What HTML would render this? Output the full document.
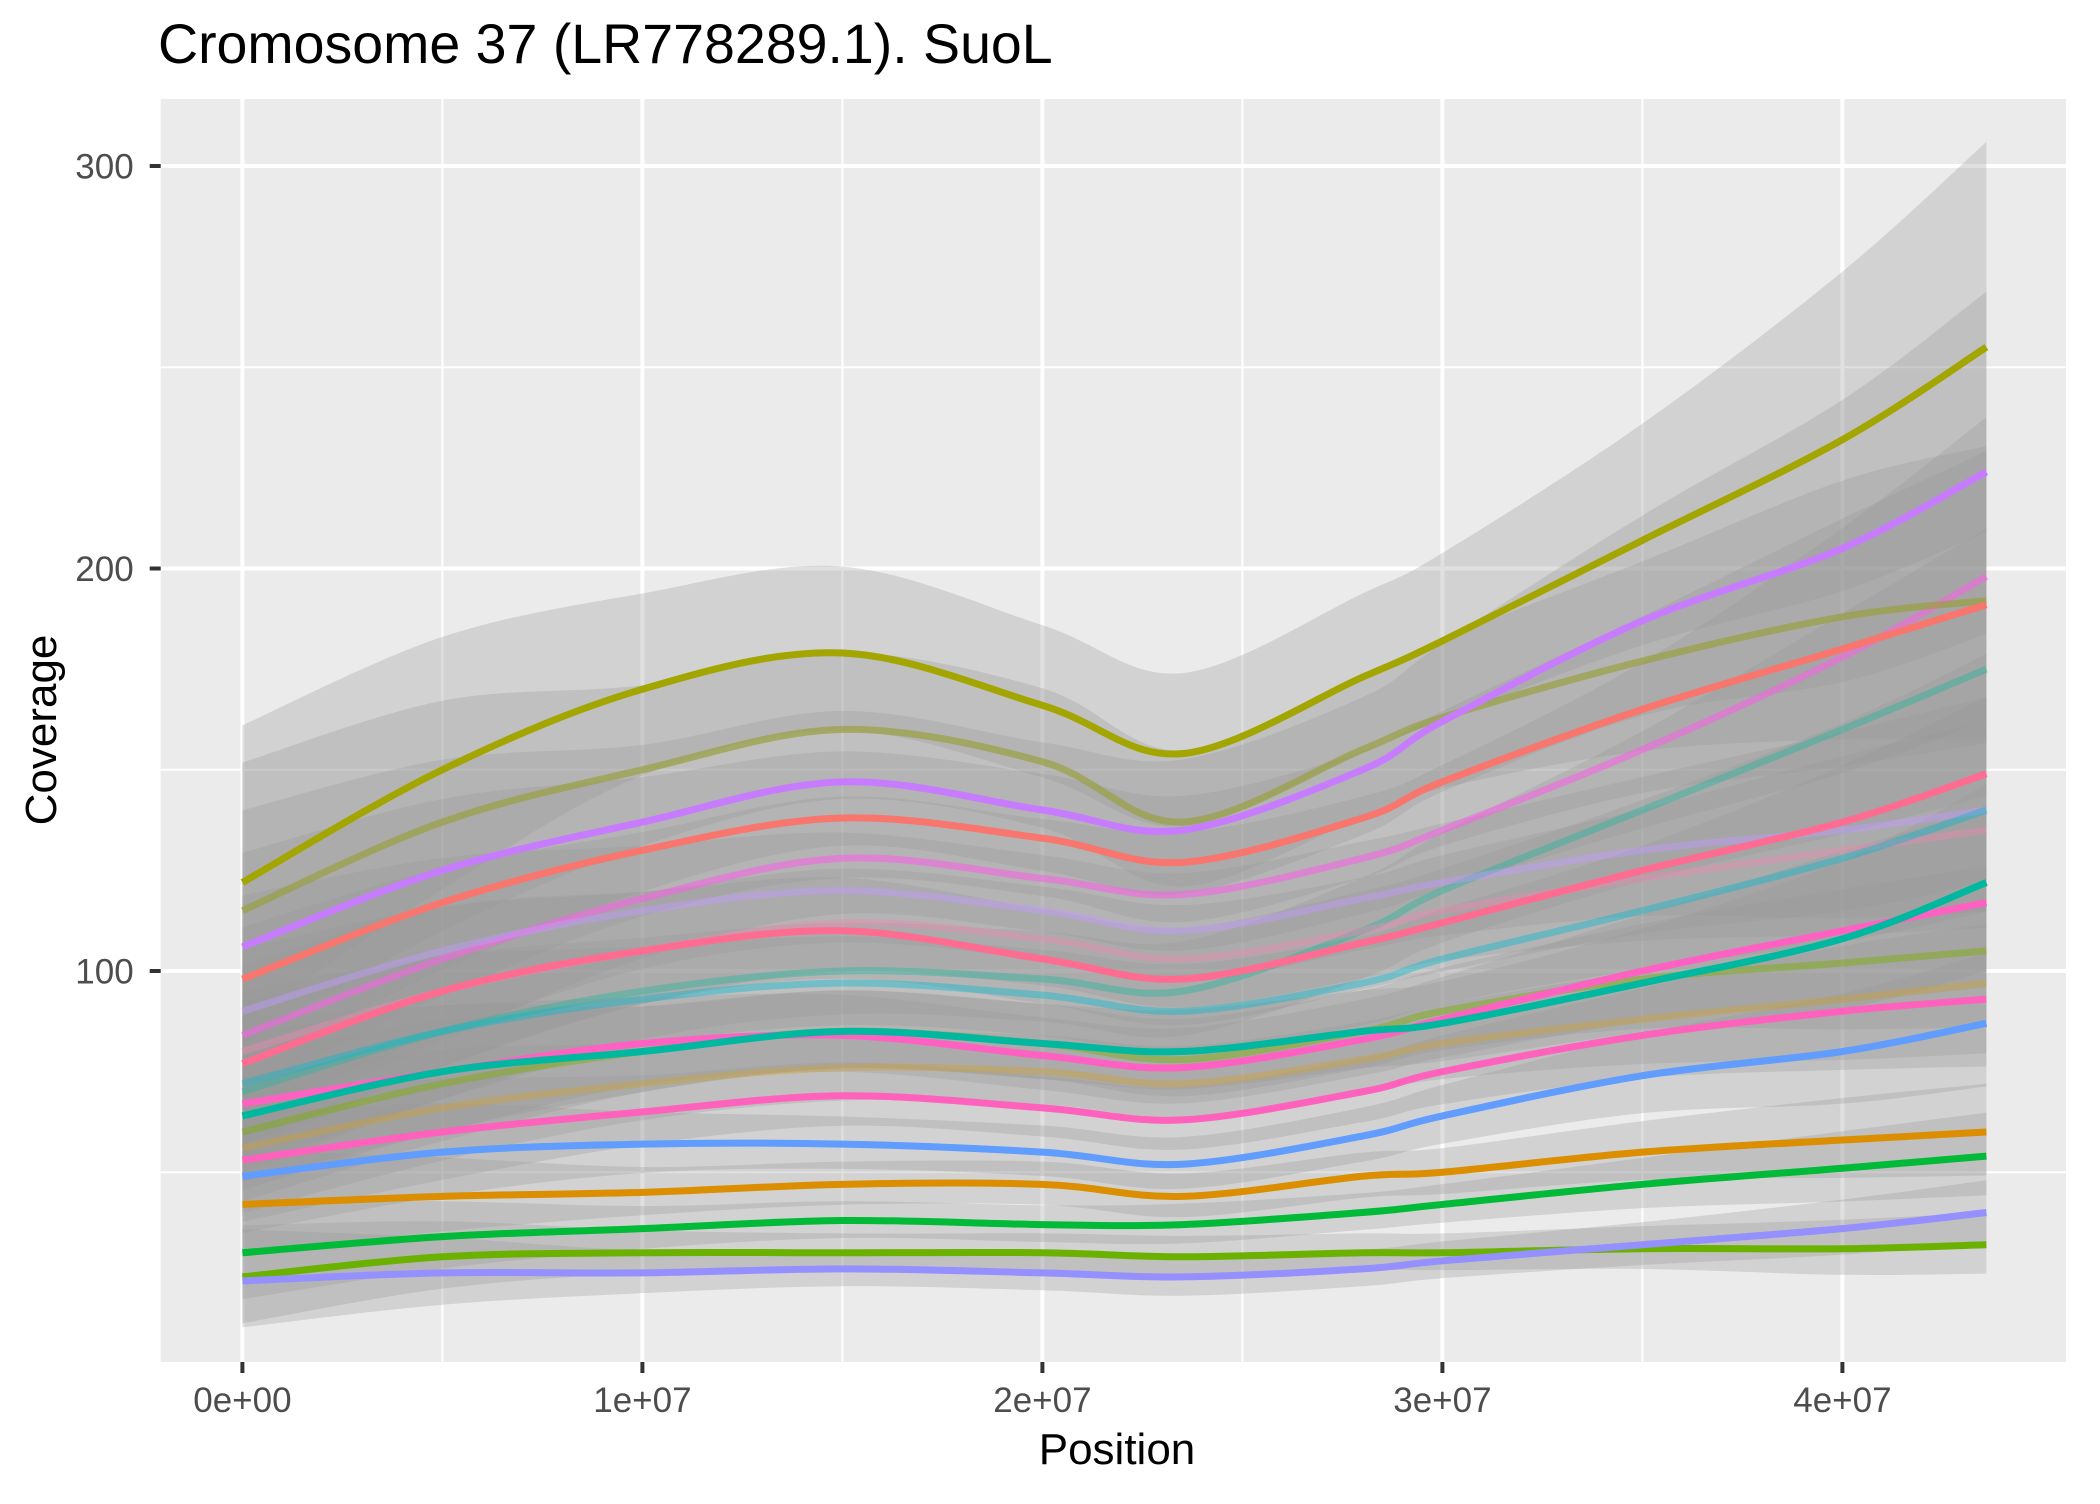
<!DOCTYPE html>
<html><head><meta charset="utf-8"><style>
body{margin:0;background:#fff;}
svg text{font-family:"Liberation Sans",Arial,sans-serif;}
</style></head><body>
<svg id="chart" width="2100" height="1499" viewBox="0 0 2100 1499" xmlns="http://www.w3.org/2000/svg">
<rect width="2100" height="1499" fill="#fff"/>
<text x="158" y="63" font-size="55.5" fill="#000">Cromosome 37 (LR778289.1). SuoL</text>
<rect x="160.7" y="99" width="1905.3" height="1263" fill="#EBEBEB"/>
<g id="grid"></g>
<g id="ribbons"></g>
<g id="lines"></g>
<g id="axes"></g>
<text x="1117" y="1464" font-size="44" text-anchor="middle" fill="#000">Position</text>
<text transform="translate(56,730) rotate(-90)" font-size="44" text-anchor="middle" fill="#000">Coverage</text>
</svg>
<script>
const positions = [0, 0.5e7, 1e7, 1.5e7, 2e7, 2.35e7, 2.8e7, 3e7, 3.5e7, 4e7, 4.36e7];
const ribbonFactor = [0.32, 0.22, 0.14, 0.12, 0.12, 0.13, 0.12, 0.12, 0.14, 0.18, 0.2];
const yTicks = [100, 200, 300];
const yTickLabels = ["100", "200", "300"];
const yMinor = [50, 150, 250];
const xTicks = [0, 1e7, 2e7, 3e7, 4e7];
const xTickLabels = ["0e+00", "1e+07", "2e+07", "3e+07", "4e+07"];
const xMinor = [0.5e7, 1.5e7, 2.5e7, 3.5e7];
const seriesColors = ["#A3A500","#9aa040","#C77CFF","#F8766D","#FF6C91","#FF61C3","#00B8A0","#FF62BC","#619CFF","#DB8E00","#00BA38","#6BB100","#9590FF","#F564E3","#2DB5A0","#7CAE00","#D0A030","#C09AFF","#E88AB0","#00BCD0"];
const seriesOpacity = [1,0.7,1,1,1,1,1,1,1,1,1,1,1,0.6,0.45,0.45,0.4,0.45,0.45,0.4];
const s1 = [122,150,170,179,166,154,173,182,207,232,255];
const s2 = [115,137,150,160,152,137,155,163,177,188,192];
const s3 = [106,125,137,147,140,135,150,162,187,205,224];
const s4 = [98,117,130,138,133,127,138,147,165,180,191];
const s5 = [77,95,105,110,103,98,107,112,125,137,149];
const s6 = [67,75,82,84,79,76,83,88,100,110,117];
const s7 = [64,75,80,85,82,80,85,87,97,108,122];
const s8 = [53,60,65,69,66,63,70,75,84,90,93];
const s9 = [49,55,57,57,55,52,59,64,74,80,87];
const s10 = [42,44,45,47,47,44,49,50,55,58,60];
const s11 = [30,34,36,38,37,37,40,42,47,51,54];
const s12 = [24,29,30,30,30,29,30,30,31,31,32];
const s13 = [23,25,25,26,25,24,26,28,32,36,40];
const s14 = [84,103,118,128,123,119,128,135,155,178,198];
const s15 = [70,85,95,100,98,95,110,120,140,160,175];
const s16 = [60,72,80,85,82,78,85,90,98,102,105];
const s17 = [56,66,72,76,75,72,78,82,88,93,97];
const s18 = [90,105,115,120,115,110,118,122,130,135,140];
const s19 = [80,95,105,112,108,103,110,115,123,130,135];
const s20 = [72,85,93,97,94,90,97,103,115,128,140];
const allSeries = [s1,s2,s3,s4,s5,s6,s7,s8,s9,s10,s11,s12,s13,s14,s15,s16,s17,s18,s19,s20];
const drawOrder = [13,14,15,16,17,18,19,0,1,2,3,4,5,6,7,8,9,10,11,12];

const NS = "http://www.w3.org/2000/svg";
const X = v => 242.4 + v / 1e7 * 400;
const Y = v => 971 + (100 - v) * 4.025;
const P = {l:160.7, r:2066, t:99, b:1362};

function smoothPath(pts, move) {
  let d = move ? `M${pts[0][0]},${pts[0][1]}` : `L${pts[0][0]},${pts[0][1]}`;
  for (let i = 0; i < pts.length - 1; i++) {
    const p0 = pts[Math.max(0,i-1)], p1 = pts[i], p2 = pts[i+1], p3 = pts[Math.min(pts.length-1,i+2)];
    const c1 = [p1[0] + (p2[0]-p0[0])/6, p1[1] + (p2[1]-p0[1])/6];
    const c2 = [p2[0] - (p3[0]-p1[0])/6, p2[1] - (p3[1]-p1[1])/6];
    d += ` C${c1[0]},${c1[1]} ${c2[0]},${c2[1]} ${p2[0]},${p2[1]}`;
  }
  return d;
}
function mk(tag, attrs, parent) {
  const e = document.createElementNS(NS, tag);
  for (const k in attrs) e.setAttribute(k, attrs[k]);
  parent.appendChild(e);
  return e;
}
const grid = document.getElementById('grid');
yMinor.forEach(v => {
  const l = mk('line', {x1:P.l, x2:P.r, y1:Y(v), y2:Y(v), stroke:'#fff', 'stroke-width':2}, grid);
  
  
});
xMinor.forEach(v => {
  const l = mk('line', {x1:X(v), x2:X(v), y1:P.t, y2:P.b, stroke:'#fff', 'stroke-width':2}, grid);
  
  
});
yTicks.forEach(v => {
  const l = mk('line', {x1:P.l, x2:P.r, y1:Y(v), y2:Y(v), stroke:'#fff', 'stroke-width':4}, grid);
  
  
});
xTicks.forEach(v => {
  const l = mk('line', {x1:X(v), x2:X(v), y1:P.t, y2:P.b, stroke:'#fff', 'stroke-width':4}, grid);
  
  
});
const rib = document.getElementById('ribbons');
allSeries.forEach((s) => {
  const up = positions.map((p,i) => [X(p), Y(s[i] + Math.max(s[i],40)*ribbonFactor[i])]);
  const lo = positions.map((p,i) => [X(p), Y(s[i] - Math.max(s[i],40)*ribbonFactor[i]*0.9)]).reverse();
  const r = mk('path', {d: smoothPath(up, true) + ' ' + smoothPath(lo, false) + ' Z', fill:'#999999', 'fill-opacity':0.3}, rib);
  
  
});
const lg = document.getElementById('lines');
drawOrder.forEach(k => {
  const s = allSeries[k];
  const pts = positions.map((p,i) => [X(p), Y(s[i])]);
  const l = mk('path', {d: smoothPath(pts, true), fill:'none', stroke:seriesColors[k], 'stroke-width':7, 'stroke-opacity':seriesOpacity[k], 'stroke-linecap':'butt'}, lg);
  
  
});
const ax = document.getElementById('axes');
yTicks.forEach((v,i) => {
  const t = mk('line', {x1:P.l-11, x2:P.l, y1:Y(v), y2:Y(v), stroke:'#333', 'stroke-width':4}, ax);
  
  
  const tx = mk('text', {x:P.l-27, y:Y(v)+12.5, 'font-size':35, 'text-anchor':'end', fill:'#4D4D4D'}, ax);
  tx.textContent = yTickLabels[i];
  
  
});
xTicks.forEach((v,i) => {
  const t = mk('line', {x1:X(v), x2:X(v), y1:P.b, y2:P.b+11, stroke:'#333', 'stroke-width':4}, ax);
  
  
  const tx = mk('text', {x:X(v), y:1412, 'font-size':35, 'text-anchor':'middle', fill:'#4D4D4D'}, ax);
  tx.textContent = xTickLabels[i];
  
  
});
</script>
</body></html>
